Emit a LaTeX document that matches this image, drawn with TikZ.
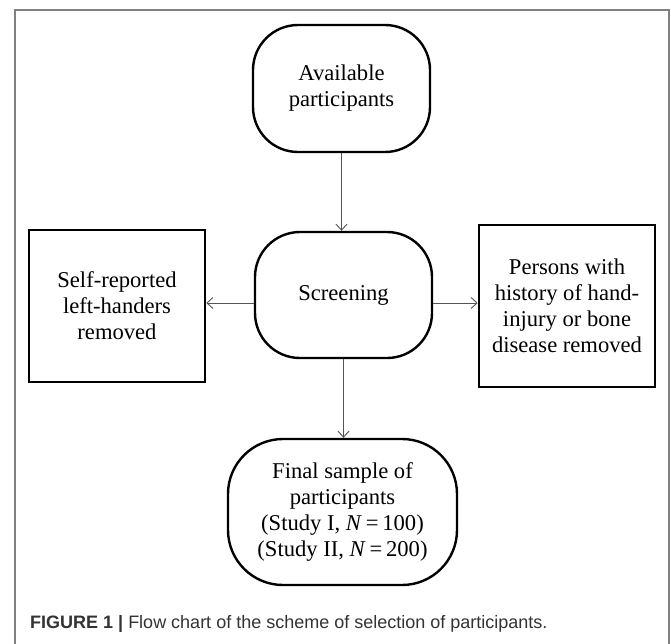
\documentclass[tikz,border=0pt]{standalone}
\usepackage{fontspec}
\setmainfont{Liberation Serif}
\newfontfamily\capfont{Liberation Sans}
\usetikzlibrary{arrows.meta}
\definecolor{framegray}{HTML}{808080}
\definecolor{arrgray}{HTML}{555555}
\definecolor{captext}{HTML}{333333}
\tikzset{
  boxtext/.style={font=\fontsize{22.6}{26}\selectfont, align=center, inner sep=0pt},
  roundbox/.style={boxtext, draw=black, line width=2.4pt, rounded corners=45pt},
  squarebox/.style={boxtext, draw=black, line width=2.6pt},
  arr/.style={draw=arrgray, line width=0.9pt, -{Straight Barb[length=6pt,width=11pt,line width=0.9pt]}}
}
\begin{document}
\begin{tikzpicture}[x=1pt,y=-1pt]
\useasboundingbox (0,0) rectangle (671,643);
\fill[white] (0,0) rectangle (671,643);
\draw[framegray, line width=1.6pt] (15,650) -- (15,10) -- (669,10) -- (669,650);

\node[roundbox, minimum width=177pt, minimum height=127pt] (a) at (341.5,88.5) {Available\\participants};
\node[roundbox, minimum width=177pt, minimum height=126pt] (s) at (343.5,295) {Screening};
\node[roundbox, rounded corners=55pt, minimum width=229pt, minimum height=146pt] (f) at (342.5,512) {Final sample of\\participants\\(Study I, \textit{N}\,=\,100)\\(Study II, \textit{N}\,=\,200)};
\node[squarebox, minimum width=176pt, minimum height=152pt] (l) at (117,306) {Self-reported\\left-handers\\removed};
\node[squarebox, minimum width=176pt, minimum height=162pt] (r) at (567,306) {Persons with\\history of hand-\\injury or bone\\disease removed};

\draw[arr] (a.south) -- (a.south |- s.north);
\draw[arr] (s.south) -- (s.south |- f.north);
\draw[arr] ([yshift=-8pt]s.west) -- ([yshift=-8pt]s.west -| l.east);
\draw[arr] ([yshift=-8pt]s.east) -- ([yshift=-8pt]s.east -| r.west);

\node[anchor=west, inner sep=0pt, text=captext, font=\capfont\fontsize{18}{22}\selectfont] (cap) at (30,624) {\textbf{FIGURE 1 |} Flow chart of the scheme of selection of participants.};
\end{tikzpicture}
\end{document}
